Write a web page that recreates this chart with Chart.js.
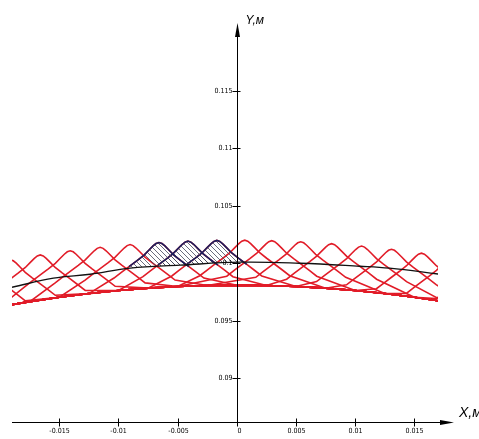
<!DOCTYPE html>
<html>
<head>
<meta charset="utf-8">
<script src="https://cdn.jsdelivr.net/npm/chart.js@4.4.1/dist/chart.umd.min.js"></script>
<style>
  html, body { margin: 0; padding: 0; background: #fff; }
  #wrap { width: 479px; height: 439px; }
</style>
</head>
<body>
<div id="wrap"><canvas id="chart" width="479" height="439"></canvas></div>
<script>
// Tick positions and labels (metres)
const xTicks = [-0.015, -0.01, -0.005, 0, 0.005, 0.01, 0.015];
const xTickLabels = ['-0.015', '-0.01', '-0.005', '0', '0.005', '0.01', '0.015'];
const yTicks = [0.09, 0.095, 0.1, 0.105, 0.11, 0.115];
const yTickLabels = ['0.09', '0.095', '0.1', '0.105', '0.11', '0.115'];

// Peaks of the red traces
const peakX = [-0.02167, -0.01914, -0.01661, -0.01408, -0.01155, -0.00902, -0.00658, -0.00413, -0.00169,
               0.00067, 0.00295, 0.0054, 0.00801, 0.01054, 0.01307, 0.0156, 0.01813, 0.02065];
const peakY = [0.09982, 0.1003, 0.10072, 0.10108, 0.10138, 0.10162, 0.1018, 0.10192, 0.10198,
               0.102, 0.10196, 0.10186, 0.1017, 0.10149, 0.10121, 0.10087, 0.10047, 0.10002];
// Traces whose tops are hatched
const hatched = [6, 7, 8];

// Shape of one trace around its peak: offset in X, drop in Y
const bumpDx = [-0.0038, -0.00315, -0.00253, -0.00185, -0.00126, -0.00084, -0.0005, -0.00025, 0,
                0.00025, 0.0005, 0.00084, 0.00126, 0.00185, 0.00253, 0.00315, 0.0038];
const bumpDrop = [0.00309, 0.00257, 0.00209, 0.00157, 0.00109, 0.00065, 0.0003, 0.00009, 0,
                  0.00009, 0.0003, 0.00065, 0.00109, 0.00157, 0.00209, 0.00257, 0.00309];

// Lower envelope where the trace tails run together
const baseX = [-0.0225, -0.02, -0.0175, -0.015, -0.0125, -0.01, -0.0075, -0.005, -0.0025, 0,
               0.0025, 0.005, 0.0075, 0.01, 0.0125, 0.015, 0.0175, 0.02, 0.0225];
const baseY = [0.09573, 0.09623, 0.09666, 0.09704, 0.09736, 0.09763, 0.09783, 0.09797, 0.09806, 0.09809,
               0.09806, 0.09797, 0.09783, 0.09763, 0.09736, 0.09704, 0.09666, 0.09623, 0.09573];

// Black nominal arc
const arcX = [-0.019, -0.0155, -0.0124, -0.009, -0.0048, 0.0003, 0.0053, 0.0104, 0.0129, 0.0172];
const arcY = [0.09791, 0.0987, 0.09904, 0.09957, 0.09983, 0.10009, 0.1, 0.09974, 0.09957, 0.09904];

const RED = 'rgb(225, 28, 40)';
const NAVY = '#1c1f5e';

function tracePoints(i) {
    const p = peakX[i];
    const pts = [];
    baseX.forEach((x, k) => { if (x < p - 0.0055) pts.push({x: x, y: baseY[k]}); });
    bumpDx.forEach((dx, k) => pts.push({x: p + dx, y: peakY[i] - bumpDrop[k]}));
    baseX.forEach((x, k) => { if (x > p + 0.0055) pts.push({x: x, y: baseY[k]}); });
    return pts;
}

// only the top of the trace, down to about the black arc
function capPoints(i) {
    const pts = [];
    bumpDx.forEach((dx, k) => {
        if (Math.abs(dx) <= 0.0026) pts.push({x: peakX[i] + dx, y: peakY[i] - bumpDrop[k]});
    });
    return pts;
}

function hatchPattern() {
    const c = document.createElement('canvas');
    c.width = 5; c.height = 5;
    const g = c.getContext('2d');
    g.strokeStyle = '#44465a';
    g.lineWidth = 0.8;
    g.beginPath();
    g.moveTo(-1, -1); g.lineTo(6, 6);
    g.moveTo(-1, 4); g.lineTo(1, 6);
    g.moveTo(4, -1); g.lineTo(6, 1);
    g.stroke();
    return g.createPattern(c, 'repeat');
}

const datasets = [{
    label: 'arc',
    data: arcX.map((x, k) => ({x: x, y: arcY[k]})),
    borderColor: '#111',
    borderWidth: 1.4,
    tension: 0.4,
    pointRadius: 0,
    fill: false,
    order: 0
}];

const pattern = hatchPattern();
hatched.forEach(i => {
    datasets.push({
        label: 'cap' + i,
        data: capPoints(i),
        borderColor: NAVY,
        borderWidth: 1.6,
        tension: 0,
        pointRadius: 0,
        fill: {target: 0, above: pattern, below: 'rgba(0,0,0,0)'},
        order: 1
    });
});

peakX.forEach((p, i) => {
    datasets.push({
        label: 'trace' + i,
        data: tracePoints(i),
        borderColor: RED,
        borderWidth: 1.6,
        tension: 0,
        pointRadius: 0,
        fill: false,
        order: 2
    });
});

// Axes crossing in the middle, with arrows, drawn over the plot
const axesPlugin = {
    id: 'axes',
    afterDraw(chart) {
        const {ctx, scales: {x, y}} = chart;
        const x0 = Math.round(x.getPixelForValue(0)) + 0.5;
        const yb = Math.round(y.bottom) + 0.5;
        ctx.save();
        ctx.strokeStyle = '#000';
        ctx.fillStyle = '#000';
        ctx.lineWidth = 1;

        // X axis
        ctx.beginPath();
        ctx.moveTo(x.left, yb);
        ctx.lineTo(x.right + 10, yb);
        ctx.stroke();
        ctx.beginPath();
        ctx.moveTo(x.right + 16, yb);
        ctx.lineTo(x.right + 2, yb - 2.5);
        ctx.lineTo(x.right + 2, yb + 2.5);
        ctx.closePath();
        ctx.fill();

        // Y axis
        ctx.beginPath();
        ctx.moveTo(x0, yb);
        ctx.lineTo(x0, y.top + 8);
        ctx.stroke();
        ctx.beginPath();
        ctx.moveTo(x0, y.top - 2);
        ctx.lineTo(x0 - 2.5, y.top + 12);
        ctx.lineTo(x0 + 2.5, y.top + 12);
        ctx.closePath();
        ctx.fill();

        ctx.font = '7px "DejaVu Sans Condensed", "DejaVu Sans", sans-serif';

        // X ticks
        ctx.textAlign = 'center';
        ctx.textBaseline = 'top';
        xTicks.forEach((v, k) => {
            const px = Math.round(x.getPixelForValue(v)) + 0.5;
            ctx.beginPath();
            ctx.moveTo(px, yb - 4);
            ctx.lineTo(px, yb + 4);
            ctx.stroke();
            ctx.fillText(xTickLabels[k], px + (v === 0 ? 2 : 0), yb + 5);
        });

        // Y ticks
        ctx.textAlign = 'right';
        ctx.textBaseline = 'middle';
        yTicks.forEach((v, k) => {
            const py = Math.round(y.getPixelForValue(v)) + 0.5;
            ctx.beginPath();
            ctx.moveTo(x0 - 5, py);
            ctx.lineTo(x0 + 3, py);
            ctx.stroke();
            ctx.fillText(yTickLabels[k], x0 - 5, py);
        });

        // Axis names
        ctx.textAlign = 'left';
        ctx.textBaseline = 'alphabetic';
        ctx.font = 'italic 12px "Liberation Sans", sans-serif';
        ctx.fillText('Y,м', x0 + 8, y.top - 1);
        ctx.font = 'italic 14px "Liberation Sans", sans-serif';
        ctx.fillText('X,м', x.right + 21, yb - 6);
        ctx.restore();
    }
};

new Chart(document.getElementById('chart'), {
    type: 'line',
    data: {datasets: datasets},
    options: {
        responsive: false,
        animation: false,
        events: [],
        layout: {padding: {left: 12, right: 41, top: 25, bottom: 17}},
        scales: {
            x: {type: 'linear', min: -0.019, max: 0.017, display: false},
            y: {type: 'linear', min: 0.0862, max: 0.1207, display: false}
        },
        plugins: {
            legend: {display: false},
            tooltip: {enabled: false}
        }
    },
    plugins: [axesPlugin]
});
</script>
</body>
</html>
